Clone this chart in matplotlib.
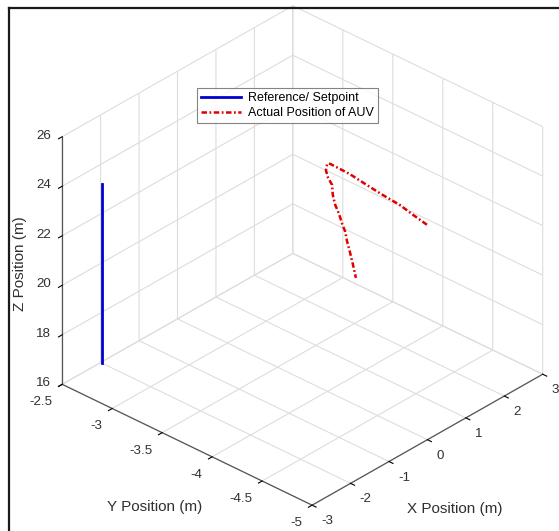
import numpy as np
import matplotlib
matplotlib.use("Agg")
import matplotlib.pyplot as plt
from matplotlib.lines import Line2D
from mpl_toolkits.mplot3d import proj3d

plt.rcParams["font.family"] = ["Liberation Sans", "DejaVu Sans"]
plt.rcParams["grid.color"] = "#dddddd"
plt.rcParams["grid.linewidth"] = 0.8

# Setpoint column
ref_x = [-2.62, -2.62]
ref_y = [-2.75, -2.75]
ref_z = [17.0, 24.25]

# Measured AUV track
auv_x = [0.00, 0.00, 0.00, 0.00, 0.00, 0.00, 0.00, 0.00,
         -0.01, -0.04, 0.01, 0.12, 0.14, 0.20, 0.30, 0.38, 0.46, 0.51, 0.58, 0.66, 0.74]
auv_y = [-4.995, -4.855, -4.725, -4.555, -4.395, -4.225, -4.095, -4.015,
         -4.00, -4.00, -4.00, -4.00, -4.00, -4.00, -4.00, -4.00, -4.00, -4.00, -4.00, -4.00, -4.00]
auv_z = [24.67, 24.80, 24.94, 25.01, 25.10, 25.21, 25.23, 25.24,
         25.18, 24.96, 24.64, 24.23, 23.80, 23.36, 22.91, 22.44, 22.05, 21.61, 21.14, 20.56, 19.93]

x_ticks = [-3, -2, -1, 0, 1, 2, 3]
y_ticks = [-5, -4.5, -4, -3.5, -3, -2.5]
z_ticks = [16, 18, 20, 22, 24, 26]
x_ticklabels = ["-3", "-2", "-1", "0", "1", "2", "3"]
y_ticklabels = ["-5", "-4.5", "-4", "-3.5", "-3", "-2.5"]
z_ticklabels = ["16", "18", "20", "22", "24", "26"]

W, H = 559, 531
TXT = "#303030"
fig = plt.figure(figsize=(W / 100, H / 100), dpi=100)
side = 400
ax = fig.add_axes([(W / 2 - side / 2) / W, (H / 2 - side / 2) / H, side / W, side / H],
                  projection="3d", proj_type="ortho")
ax.view_init(elev=31.6, azim=-137.3)
ax.set_box_aspect((1, 1, 0.855))

ax.plot(ref_x, ref_y, ref_z, color="#0000d0", lw=2.0, label="Reference/ Setpoint")
ax.plot(auv_x, auv_y, auv_z, color="#e00000", lw=1.8, ls=(0, (2.2, 1.0, 0.7, 1.0)),
        label="Actual Position of AUV")

ax.set_xlim(-3, 3)
ax.set_ylim(-5, -2.5)
ax.set_zlim(16, 26)
ax.set_xticks(x_ticks)
ax.set_yticks(y_ticks)
ax.set_zticks(z_ticks)
ax.xaxis.set_ticklabels([])
ax.yaxis.set_ticklabels([])
ax.zaxis.set_ticklabels([])

for axis in (ax.xaxis, ax.yaxis, ax.zaxis):
    axis.set_pane_color((1, 1, 1, 0))
    axis.pane.set_edgecolor("#dddddd")
    axis.line.set_color("#555555")
    axis.line.set_linewidth(0.9)
    axis._axinfo["tick"]["inward_factor"] = 0.2
    axis._axinfo["tick"]["outward_factor"] = 0.0
    axis._axinfo["tick"]["linewidth"] = {True: 0.8, False: 0.5}
    axis._axinfo["tick"]["color"] = "#555555"
ax.set_facecolor("white")
ax.set_xlabel("")
ax.set_ylabel("")
ax.set_zlabel("")


def to_px(x, y, z):
    xs, ys, _ = proj3d.proj_transform(np.atleast_1d(x).astype(float), np.atleast_1d(y).astype(float),
                                      np.atleast_1d(z).astype(float), ax.M)
    return ax.transData.transform(np.column_stack([xs, ys]))


# fit the cube outline into the drawing area
fig.canvas.draw()
corners = np.array([[-3, -2.5, 16], [-3, -5, 16], [3, -5, 16], [-3, -2.5, 26], [3, -5, 26]], float)
corner_px = np.array([[62, H - 383], [312, H - 505], [543, H - 375], [62, H - 134], [543, H - 130]],
                     float)
P = to_px(corners[:, 0], corners[:, 1], corners[:, 2])
Pc, Tc = P.mean(0), corner_px.mean(0)
s = np.sqrt(((corner_px - Tc) ** 2).sum() / ((P - Pc) ** 2).sum())
bb = ax.get_position()
c = np.array([(bb.x0 + bb.width / 2) * W, (bb.y0 + bb.height / 2) * H])
new_c = Tc - s * (Pc - c)
new_side = bb.width * W * s
ax.set_position([(new_c[0] - new_side / 2) / W, (new_c[1] - new_side / 2) / H,
                 new_side / W, new_side / H])
fig.canvas.draw()

# tick labels along the three axis edges
xmin, xmax = ax.get_xlim()
ymin, ymax = ax.get_ylim()
zmin, zmax = ax.get_zlim()
for (px, py), lab in zip(to_px(x_ticks, [ymin] * len(x_ticks), [zmin] * len(x_ticks)), x_ticklabels):
    fig.text((px + 9) / W, (py - 16) / H, lab, ha="left", va="center", fontsize=9.6, color=TXT)
for (px, py), lab in zip(to_px([xmin] * len(y_ticks), y_ticks, [zmin] * len(y_ticks)), y_ticklabels):
    fig.text((px - 10) / W, (py - 18) / H, lab, ha="right", va="center", fontsize=9.6, color=TXT)
for (px, py), lab in zip(to_px([xmin] * len(z_ticks), [ymax] * len(z_ticks), z_ticks), z_ticklabels):
    fig.text((px - 11) / W, (py + 1) / H, lab, ha="right", va="center", fontsize=9.6, color=TXT)

fig.text(455 / W, 1 - 509 / H, "X Position (m)", ha="center", va="center", fontsize=11, color=TXT)
fig.text(155 / W, 1 - 507 / H, "Y Position (m)", ha="center", va="center", fontsize=11, color=TXT)
fig.text(20 / W, 1 - 264 / H, "Z Position (m)", ha="center", va="center", rotation=90,
         fontsize=11, color=TXT)

leg = ax.legend(loc="upper left", bbox_to_anchor=(197 / W, 1 - 88 / H), bbox_transform=fig.transFigure,
                borderaxespad=0, fontsize=9, frameon=True, fancybox=False, handlelength=3.2,
                handletextpad=0.5, labelspacing=0.2, borderpad=0.35)
leg.get_frame().set_edgecolor("#666666")
leg.get_frame().set_linewidth(0.8)

fig.add_artist(Line2D([8.5 / W, 8.5 / W], [0, 1 - 7.5 / H], transform=fig.transFigure,
                      color="#1a1a1a", lw=1.6))
fig.add_artist(Line2D([8.5 / W, 1], [1 - 7.5 / H, 1 - 7.5 / H], transform=fig.transFigure,
                      color="#1a1a1a", lw=1.6))

fig.savefig("out.png", dpi=100, facecolor="white")
